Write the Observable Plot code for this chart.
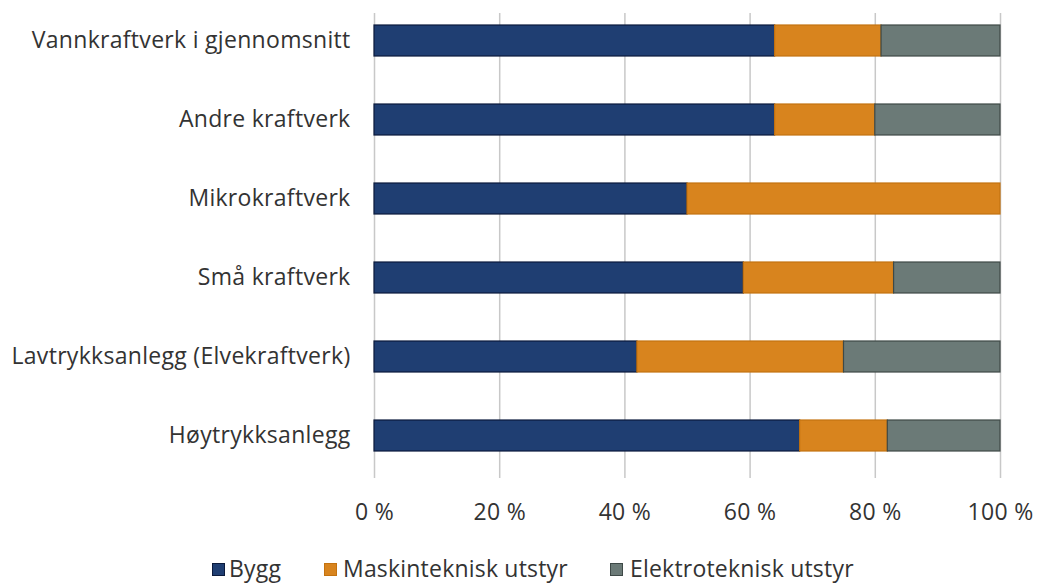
<!DOCTYPE html>
<html>
<head>
<meta charset="utf-8">
<script src="https://cdn.jsdelivr.net/npm/d3@7"></script>
<script src="https://cdn.jsdelivr.net/npm/@observablehq/plot@0.6"></script>
<style>
  html, body { margin: 0; padding: 0; background: #fff; }
  body { width: 1038px; height: 583px; overflow: hidden; font-family: "Open Sans", Lato, sans-serif; position: relative; }
  #legend { position: absolute; left: 0; top: 554px; width: 1038px; height: 29px; font-size: 23px; color: #333; letter-spacing: 0.2px; }
  .item { position: absolute; top: 0; height: 29px; display: flex; align-items: center; }
  .sw { display: inline-block; width: 11px; height: 11px; border: 1px solid; margin-top: 2px; }
  .lt { position: absolute; top: 0; line-height: 29px; white-space: nowrap; }
</style>
</head>
<body>
<div id="chart"></div>
<div id="legend"></div>
<script>
const categories = ["Vannkraftverk i gjennomsnitt", "Andre kraftverk", "Mikrokraftverk", "Små kraftverk", "Lavtrykksanlegg (Elvekraftverk)", "Høytrykksanlegg"];
const series = ["Bygg", "Maskinteknisk utstyr", "Elektroteknisk utstyr"];
const bygg = [64, 64, 50, 59, 42, 68];
const maskin = [17, 16, 50, 24, 33, 14];
const elektro = [19, 20, 0, 17, 25, 18];
const xTicks = [0, 20, 40, 60, 80, 100];
const fills = ["#1f3e72", "#d8841e", "#6b7a77"];
const strokes = ["#0b1a3c", "#c4720f", "#3e4947"];

const data = [];
categories.forEach((c, i) => {
  [bygg[i], maskin[i], elektro[i]].forEach((v, j) => {
    data.push({category: c, series: series[j], value: v});
  });
});

const chart = Plot.plot({
  width: 1038,
  height: 530,
  marginLeft: 374,
  marginRight: 38,
  marginTop: 13,
  marginBottom: 52,
  style: {fontFamily: "'Open Sans', Lato, sans-serif", fontSize: "23px", color: "#333", background: "#fff", letterSpacing: "0.3px"},
  x: {domain: [0, 100]},
  y: {domain: categories, range: [0.35, 476.3], paddingInner: 0.61, paddingOuter: 0.305},
  color: {domain: series, range: fills},
  marks: [
    Plot.ruleX(xTicks, {stroke: "#c8c8c8", strokeWidth: 1.5}),
    Plot.barX(data, Plot.stackX({
      x: "value", y: "category", fill: "series", order: series,
      stroke: d => strokes[series.indexOf(d.series)], strokeWidth: 1.2
    })),
    Plot.axisY({tickSize: 0, tickPadding: 24, fontSize: 23, label: null}),
    Plot.axisX({ticks: xTicks, tickSize: 0, tickPadding: 25, fontSize: 23, label: null, tickFormat: d => d + " %"})
  ]
});
document.getElementById("chart").appendChild(chart);

const legend = document.getElementById("legend");
const swLeft = [212, 324, 610];
const txtLeft = [229, 343, 630];
series.forEach((s, j) => {
  const it = document.createElement("div");
  it.className = "item";
  it.style.left = swLeft[j] + "px";
  const sw = document.createElement("span");
  sw.className = "sw";
  sw.style.background = fills[j];
  sw.style.borderColor = strokes[j];
  it.appendChild(sw);
  legend.appendChild(it);
  const t = document.createElement("span");
  t.className = "lt";
  t.style.left = txtLeft[j] + "px";
  t.textContent = s;
  legend.appendChild(t);
});
</script>
</body>
</html>
